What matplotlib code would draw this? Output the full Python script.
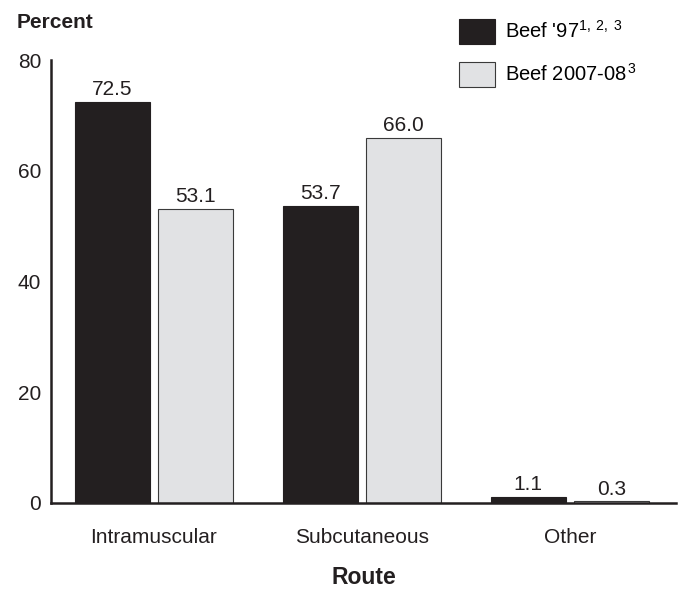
import numpy as np
import matplotlib
matplotlib.use("Agg")
import matplotlib.pyplot as plt

plt.rcParams["font.family"] = ["Liberation Sans", "DejaVu Sans"]
plt.rcParams["mathtext.fontset"] = "custom"
plt.rcParams["mathtext.rm"] = "Liberation Sans"
plt.rcParams["mathtext.it"] = "Liberation Sans"
plt.rcParams["mathtext.bf"] = "Liberation Sans:bold"

routes = ["Intramuscular", "Subcutaneous", "Other"]
beef_97 = [72.5, 53.7, 1.1]
beef_0708 = [53.1, 66.0, 0.3]
series_labels = ["Beef '97$^{1,\\;2,\\;3}$", "Beef 2007-08$^{\\,3}$"]

fig = plt.figure(figsize=(6.79, 5.90), dpi=100)
ax = fig.add_axes([0.0751, 0.1475, 0.9205, 0.7505])

x = np.arange(len(routes))
width = 0.36
off = 0.2
b1 = ax.bar(x - off, beef_97, width, color="#231f20", edgecolor="#231f20",
            linewidth=0.8, label=series_labels[0])
b2 = ax.bar(x + off, beef_0708, width, color="#e1e2e4", edgecolor="#3a3a3a",
            linewidth=0.8, label=series_labels[1])

for bars, vals in ((b1, beef_97), (b2, beef_0708)):
    for bar, v in zip(bars, vals):
        ax.annotate(f"{v:.1f}", (bar.get_x() + bar.get_width() / 2, v),
                    xytext=(0, 2), textcoords="offset points",
                    ha="center", va="bottom", fontsize=15, color="#231f20")

ax.set_xlim(-0.495, 2.51)
ax.set_ylim(0, 80)
ax.set_yticks([0, 20, 40, 60, 80])
ax.set_xticks(x)
ax.set_xticklabels(routes)
ax.tick_params(axis="both", length=0, labelsize=15, colors="#231f20")
ax.tick_params(axis="y", pad=7)
ax.tick_params(axis="x", pad=18)
for s in ("top", "right"):
    ax.spines[s].set_visible(False)
for s in ("left", "bottom"):
    ax.spines[s].set_linewidth(1.8)
    ax.spines[s].set_color("#231f20")

ax.set_xlabel("Route", fontsize=16.5, fontweight="bold", labelpad=14, color="#231f20")
fig.text(0.025, 0.962, "Percent", fontsize=15, fontweight="bold",
         ha="left", va="center", color="#231f20")

leg = ax.legend(loc="upper left", bbox_to_anchor=(0.624, 1.135), frameon=False,
                fontsize=14.5, handlelength=1.8, handleheight=1.6,
                labelspacing=0.85, handletextpad=0.5, borderpad=0.4)

fig.savefig("out.png", dpi=100)
